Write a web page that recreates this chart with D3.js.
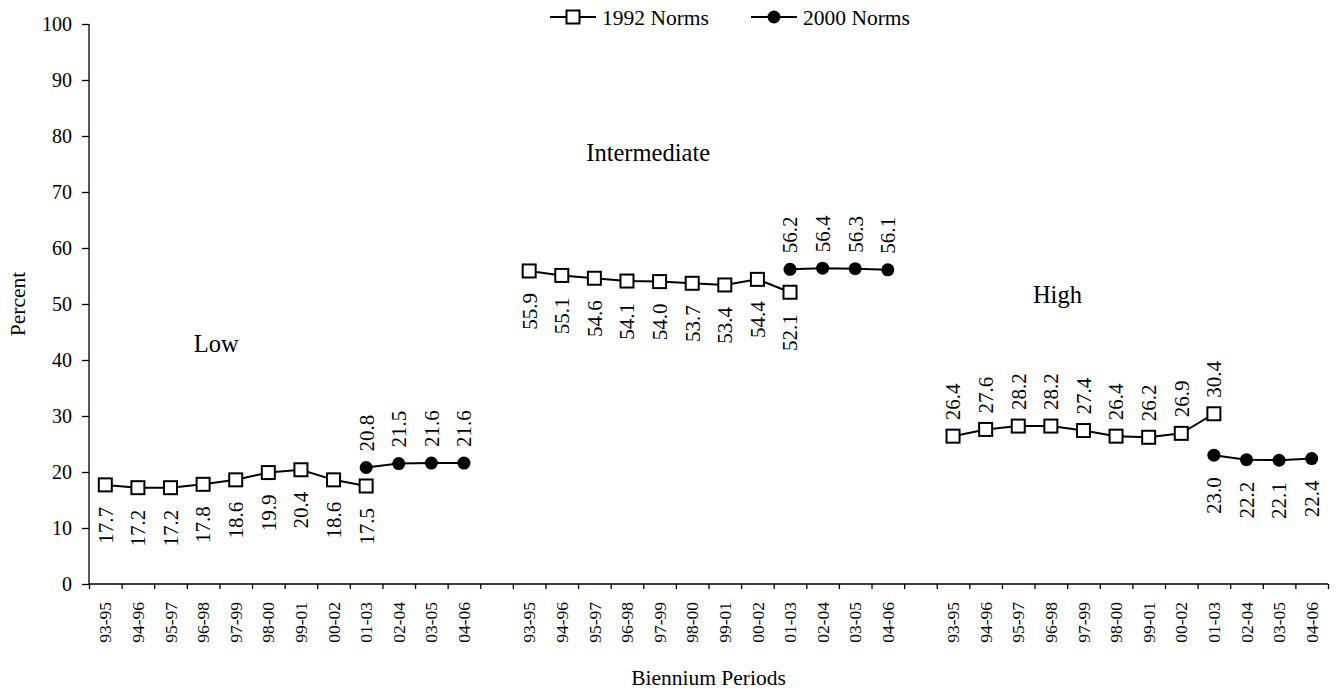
<!DOCTYPE html>
<html>
<head>
<meta charset="utf-8">
<script src="https://cdn.jsdelivr.net/npm/d3@7"></script>
<style>
  html, body { margin: 0; padding: 0; background: #fff; }
  svg { display: block; }
  svg text { font-family: "Liberation Serif", "Times New Roman", "DejaVu Serif", serif !important; fill: #000; }
</style>
</head>
<body>
<svg id="chart" width="1340" height="692"></svg>
<script>
// ---- data ----
const groups = ["Low", "Intermediate", "High"];
const periods = ["93-95", "94-96", "95-97", "96-98", "97-99", "98-00", "99-01", "00-02", "01-03", "02-04", "03-05", "04-06"];
const periods1992 = ["93-95", "94-96", "95-97", "96-98", "97-99", "98-00", "99-01", "00-02", "01-03"];
const periods2000 = ["01-03", "02-04", "03-05", "04-06"];
const low1992 = [17.7, 17.2, 17.2, 17.8, 18.6, 19.9, 20.4, 18.6, 17.5];
const intermediate1992 = [55.9, 55.1, 54.6, 54.1, 54.0, 53.7, 53.4, 54.4, 52.1];
const high1992 = [26.4, 27.6, 28.2, 28.2, 27.4, 26.4, 26.2, 26.9, 30.4];
const low2000 = [20.8, 21.5, 21.6, 21.6];
const intermediate2000 = [56.2, 56.4, 56.3, 56.1];
const high2000 = [23.0, 22.2, 22.1, 22.4];
const yTicks = [0, 10, 20, 30, 40, 50, 60, 70, 80, 90, 100];
const seriesNames = ["1992 Norms", "2000 Norms"];

// label placement: 1992 labels above/below per group, 2000 labels above/below
const label1992Above = [false, false, true];
const label2000Above = [true, true, false];

// ---- layout ----
const FONT = '"Liberation Serif", "Times New Roman", "DejaVu Serif", serif';
const svg = d3.select("#chart");
const mLeft = 89, mRight = 1328, mTop = 24, mBottom = 584;

// band keys with an empty slot between groups
const keys = [];
groups.forEach((g, gi) => {
  if (gi > 0) keys.push("gap" + gi);
  periods.forEach(p => keys.push(g + "|" + p));
});
const x = d3.scaleBand().domain(keys).range([mLeft, mRight]).padding(0);
const xEdge = d3.scaleLinear().domain([0, keys.length]).range([mLeft, mRight]);
const y = d3.scaleLinear().domain([0, 100]).range([mBottom, mTop]);

// ---- axes ----
const yAxis = d3.axisLeft(y).tickValues(yTicks).tickSize(7).tickPadding(10).tickFormat(d3.format("d"));
const gy = svg.append("g").attr("transform", `translate(${mLeft},0)`).call(yAxis);
gy.attr("font-family", FONT);
gy.select(".domain").attr("stroke", "#000").attr("stroke-width", 1.3).attr("d", `M0,${mTop}V${mBottom}`);
gy.selectAll(".tick line").attr("stroke", "#000").attr("stroke-width", 1.3);
gy.selectAll(".tick text").attr("font-size", 20).attr("fill", "#000");

// x tick marks at band edges
const xTickAxis = d3.axisBottom(xEdge).tickValues(d3.range(0, keys.length + 1)).tickSize(5).tickFormat("");
const gxt = svg.append("g").attr("transform", `translate(0,${mBottom})`).call(xTickAxis);
gxt.select(".domain").attr("stroke", "#000").attr("stroke-width", 1.3).attr("d", `M${mLeft},0H${mRight}`);
gxt.selectAll(".tick line").attr("stroke", "#000").attr("stroke-width", 1.3);

// x labels (rotated) through the band scale axis
const realKeys = keys.filter(k => !k.startsWith("gap"));
const xLabAxis = d3.axisBottom(x).tickValues(realKeys).tickSize(0).tickFormat(k => k.split("|")[1]);
const gxl = svg.append("g").attr("transform", `translate(0,${mBottom})`).call(xLabAxis);
gxl.attr("font-family", FONT);
gxl.select(".domain").remove();
gxl.selectAll(".tick text")
  .attr("font-size", 17.5).attr("fill", "#000")
  .attr("transform", "rotate(-90)")
  .attr("text-anchor", "end")
  .attr("x", -18).attr("y", 0).attr("dy", "0.35em");

// axis titles
svg.append("text").attr("x", (mLeft + mRight) / 2).attr("y", 685)
  .attr("text-anchor", "middle").attr("font-size", 21.5).text("Biennium Periods");
svg.append("text").attr("transform", `translate(25,${(mTop + mBottom) / 2}) rotate(-90)`)
  .attr("text-anchor", "middle").attr("font-size", 21.5).text("Percent");

// ---- series ----
const data1992 = [low1992, intermediate1992, high1992];
const data2000 = [low2000, intermediate2000, high2000];
const line = d3.line().x(d => x(d.key) + x.bandwidth() / 2).y(d => y(d.v));

groups.forEach((g, gi) => {
  const s1 = periods1992.map((p, i) => ({ key: g + "|" + p, v: data1992[gi][i] }));
  const s2 = periods2000.map((p, i) => ({ key: g + "|" + p, v: data2000[gi][i] }));

  svg.append("path").datum(s1).attr("d", line).attr("fill", "none").attr("stroke", "#000").attr("stroke-width", 2);
  svg.append("path").datum(s2).attr("d", line).attr("fill", "none").attr("stroke", "#000").attr("stroke-width", 2);

  svg.selectAll(null).data(s1).enter().append("rect")
    .attr("x", d => x(d.key) + x.bandwidth() / 2 - 6.5)
    .attr("y", d => y(d.v) - 6.5)
    .attr("width", 13).attr("height", 13)
    .attr("fill", "#fff").attr("stroke", "#000").attr("stroke-width", 2);

  svg.selectAll(null).data(s2).enter().append("circle")
    .attr("cx", d => x(d.key) + x.bandwidth() / 2)
    .attr("cy", d => y(d.v))
    .attr("r", 6.5).attr("fill", "#000");

  const addLabels = (s, above) => {
    svg.selectAll(null).data(s).enter().append("text")
      .attr("transform", d => {
        const cx = x(d.key) + x.bandwidth() / 2;
        const cy = above ? y(d.v) - 16 : y(d.v) + 22;
        return `translate(${cx},${cy}) rotate(-90)`;
      })
      .attr("text-anchor", above ? "start" : "end")
      .attr("dy", "0.35em")
      .attr("font-size", 21)
      .text(d => d3.format(".1f")(d.v));
  };
  addLabels(s1, label1992Above[gi]);
  addLabels(s2, label2000Above[gi]);
});

// group labels
const groupLabelPos = [[3.9, 41.5], [17.15, 75.5], [29.7, 50.2]];
groups.forEach((g, gi) => {
  svg.append("text")
    .attr("x", xEdge(groupLabelPos[gi][0]))
    .attr("y", y(groupLabelPos[gi][1]))
    .attr("text-anchor", "middle").attr("font-size", 24.5).text(g);
});

// ---- legend ----
const leg = svg.append("g");
const legY = 17;
const legItems = [{ x0: 550, name: seriesNames[0], type: "square" }, { x0: 751, name: seriesNames[1], type: "circle" }];
legItems.forEach(it => {
  leg.append("line").attr("x1", it.x0).attr("x2", it.x0 + 46).attr("y1", legY).attr("y2", legY)
    .attr("stroke", "#000").attr("stroke-width", 2);
  if (it.type === "square") {
    leg.append("rect").attr("x", it.x0 + 23 - 6.5).attr("y", legY - 6.5).attr("width", 13).attr("height", 13)
      .attr("fill", "#fff").attr("stroke", "#000").attr("stroke-width", 2);
  } else {
    leg.append("circle").attr("cx", it.x0 + 23).attr("cy", legY).attr("r", 6.5).attr("fill", "#000");
  }
  leg.append("text").attr("x", it.x0 + 52).attr("y", legY).attr("dy", "0.35em")
    .attr("font-size", 21.5).text(it.name);
});

svg.selectAll("text").attr("font-family", FONT);
</script>
</body>
</html>
